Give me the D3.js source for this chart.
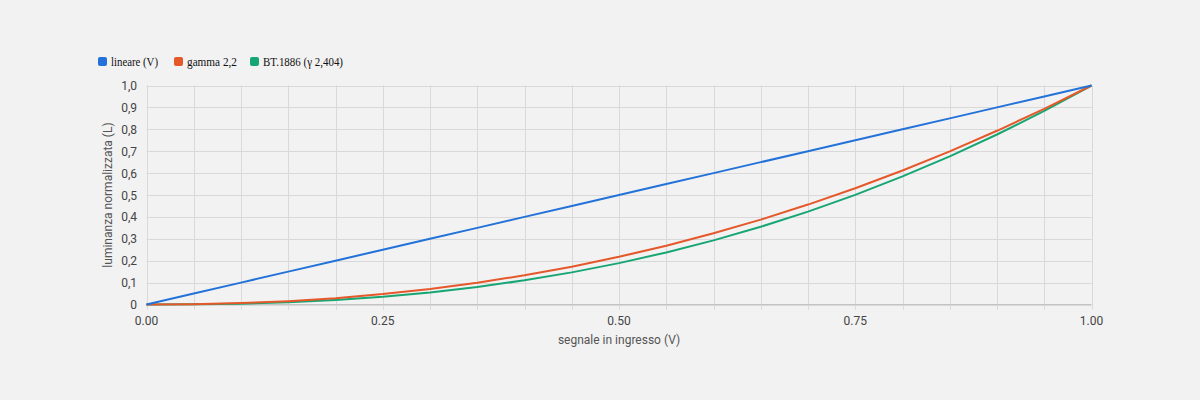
<!DOCTYPE html>
<html><head><meta charset="utf-8">
<script src="https://cdn.jsdelivr.net/npm/d3@7"></script>
<style>
html,body{margin:0;padding:0;background:#f2f2f2;}
svg{display:block;}
</style></head>
<body>
<svg id="c" width="1200" height="400"></svg>
<script>
const xValues = [0,0.05,0.1,0.15,0.2,0.25,0.3,0.35,0.4,0.45,0.5,0.55,0.6,0.65,0.7,0.75,0.8,0.85,0.9,0.95,1.0];
const linear = [0,0.05,0.1,0.15,0.2,0.25,0.3,0.35,0.4,0.45,0.5,0.55,0.6,0.65,0.7,0.75,0.8,0.85,0.9,0.95,1.0];
const gamma22 = [0,0.0014,0.0063,0.0154,0.029,0.0474,0.0707,0.0993,0.1332,0.1726,0.2176,0.2684,0.325,0.3876,0.4563,0.5311,0.6121,0.6994,0.7932,0.8933,1.0];
const bt1886 = [0,0.0007,0.0039,0.0105,0.0209,0.0357,0.0553,0.0801,0.1105,0.1467,0.189,0.2376,0.2929,0.355,0.4242,0.5008,0.5848,0.6766,0.7762,0.884,1.0];
const seriesNames = ["lineare (V)","gamma 2,2","BT.1886 (γ 2,404)"];
const xTickLabels = ["0.00","0.25","0.50","0.75","1.00"];
const yTickLabels = ["0","0,1","0,2","0,3","0,4","0,5","0,6","0,7","0,8","0,9","1,0"];
const xTitle = "segnale in ingresso (V)";
const yTitle = "luminanza normalizzata (L)";
const colors = ["#2372d9","#e5582a","#17a673"];

const svg = d3.select("#c");
const L=146.5, R=1091.5, T=85.5, B=304.5;
const x = d3.scaleLinear().domain([0,1]).range([L,R]);
const y = d3.scaleLinear().domain([0,1]).range([B,T]);

const g = svg.append("g");
// vertical grid every 0.05
const xGrid = d3.range(0,21).map(i=>i*0.05);
g.selectAll(".vg").data(xGrid).enter().append("line")
 .attr("x1",d=>Math.round(x(d))+0.5).attr("x2",d=>Math.round(x(d))+0.5)
 .attr("y1",T).attr("y2",B+5).attr("stroke","#d9d9d9").attr("stroke-width",1);
// horizontal grid
const yGrid = d3.range(0,11).map(i=>i*0.1);
g.selectAll(".hg").data(yGrid).enter().append("line")
 .attr("x1",L).attr("x2",R)
 .attr("y1",d=>Math.round(y(d))+0.5).attr("y2",d=>Math.round(y(d))+0.5)
 .attr("stroke","#d9d9d9").attr("stroke-width",1);
// baseline
g.append("line").attr("x1",L).attr("x2",R).attr("y1",B).attr("y2",B).attr("stroke","#c4c4c4");

// y labels
g.selectAll(".yl").data(yTickLabels).enter().append("text")
 .attr("x",137).attr("y",(d,i)=>y(i*0.1)+4.5)
 .attr("text-anchor","end").attr("font-family","Roboto, sans-serif").attr("font-size",12)
 .attr("fill","#444").text(d=>d);
// x labels
g.selectAll(".xl").data(xTickLabels).enter().append("text")
 .attr("x",(d,i)=>x(i*0.25)).attr("y",325)
 .attr("text-anchor","middle").attr("font-family","Roboto, sans-serif").attr("font-size",12)
 .attr("fill","#444").text(d=>d);
// titles
g.append("text").attr("x",(L+R)/2).attr("y",344).attr("text-anchor","middle")
 .attr("font-family","Roboto, sans-serif").attr("font-size",12).attr("fill","#555").text(xTitle);
g.append("text").attr("transform",`translate(112,${(T+B)/2}) rotate(-90)`).attr("text-anchor","middle")
 .attr("font-family","Roboto, sans-serif").attr("font-size",12).attr("fill","#555").text(yTitle);

// lines
const data = [linear,gamma22,bt1886];
const line = d3.line().x((d,i)=>x(xValues[i])).y(d=>y(d));
[2,1,0].forEach(k=>{
 g.append("path").datum(data[k]).attr("d",line).attr("fill","none")
  .attr("stroke",colors[k]).attr("stroke-width",2).attr("stroke-linejoin","round");
});

// legend
const lx=[98,174,250];
const lw=[47,50,80];
seriesNames.forEach((n,i)=>{
 svg.append("rect").attr("x",lx[i]).attr("y",57).attr("width",9).attr("height",9).attr("rx",2)
  .attr("fill",colors[i]);
 svg.append("text").attr("x",lx[i]+13).attr("y",65.5).attr("font-family","'Liberation Serif', serif")
  .attr("font-size",13.5).attr("fill","#111")
  .attr("textLength",lw[i]).attr("lengthAdjust","spacingAndGlyphs").text(n);
});
</script>
</body></html>
